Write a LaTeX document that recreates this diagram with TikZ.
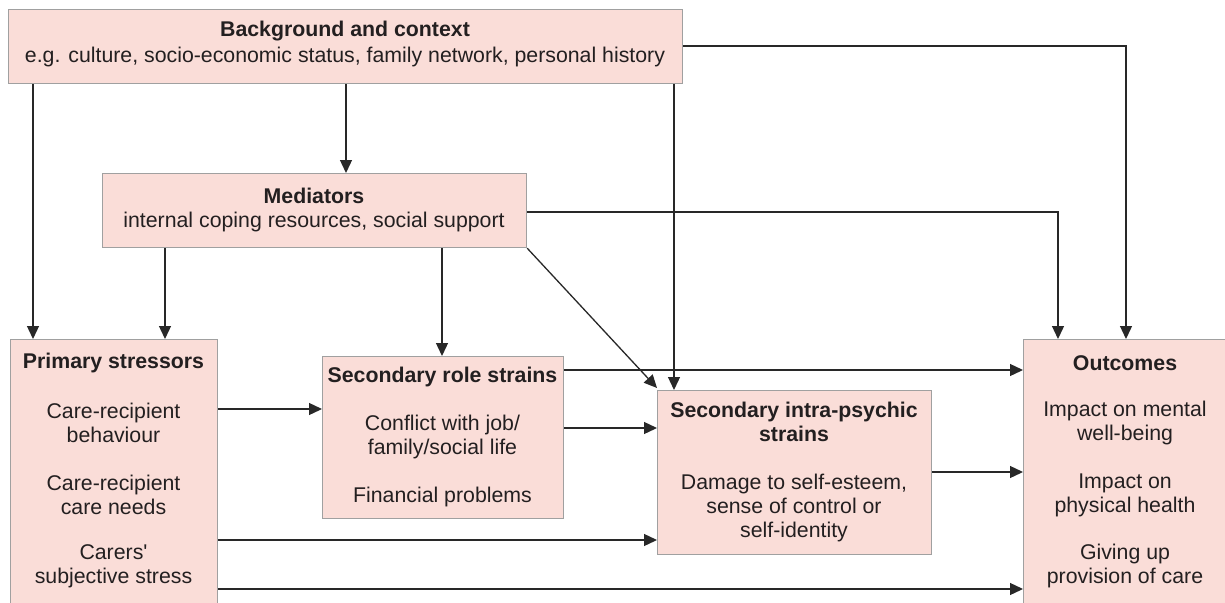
\documentclass[tikz,border=0pt]{standalone}
\usepackage{fontspec}
\setmainfont{Liberation Sans}
\usetikzlibrary{arrows.meta,calc}
\definecolor{boxpink}{RGB}{250,221,216}
\definecolor{boxedge}{RGB}{160,160,160}
\definecolor{linecol}{RGB}{40,40,40}
\definecolor{txt}{RGB}{35,31,32}
\tikzset{
  box/.style={draw=boxedge, fill=boxpink, line width=1.2pt, inner sep=0pt, anchor=north west},
  lbl/.style={text=txt, align=center, inner sep=0pt, font=\fontsize{21.3}{24}\selectfont},
  ttl/.style={lbl, font=\fontsize{21.3}{24}\selectfont\bfseries},
  arr/.style={draw=linecol, line width=1.3pt, -{Triangle[length=13pt,width=12pt]}},
}
\begin{document}
\begin{tikzpicture}[x=1pt,y=-1pt]
\useasboundingbox (0,0) rectangle (1225,602);
% boxes
\node[box, minimum width=674pt, minimum height=74pt] (bg) at (8,9) {};
\node[box, minimum width=424pt, minimum height=74pt] (med) at (102,173) {};
\node[box, minimum width=207pt, minimum height=280pt] (prim) at (10,339) {};
\node[box, minimum width=241pt, minimum height=162pt] (role) at (322,356) {};
\node[box, minimum width=274pt, minimum height=164pt] (intra) at (657,390) {};
\node[box, minimum width=220pt, minimum height=280pt] (out) at (1023,339) {};
% texts
\node[ttl] (bgT) at (345,31) {Background and context};
\node[lbl] (bgS) at (345,57) {e.g. culture, socio-economic status, family network, personal history};
\node[ttl] (medT) at (314,196) {Mediators};
\node[lbl] (medS) at (314,222) {internal coping resources, social support};
\node[ttl] (primT) at (113.5,363) {Primary stressors};
\node[lbl] (primA) at (113.5,423) {Care-recipient\\behaviour};
\node[lbl] (primB) at (113.5,495) {Care-recipient\\care needs};
\node[lbl] (primC) at (113.5,566) {Carers\textquotesingle\\subjective stress};
\node[ttl] (roleT) at (442.5,377) {Secondary role strains};
\node[lbl] (roleA) at (442.5,436.5) {Conflict with job/\\family/social life};
\node[lbl] (roleB) at (442.5,497) {Financial problems};
\node[ttl] (intraT) at (794,422) {Secondary intra-psychic\\strains};
\node[lbl] (intraA) at (794,507.5) {Damage to self-esteem,\\sense of control or\\self-identity};
\node[ttl] (outT) at (1125,363) {Outcomes};
\node[lbl] (outA) at (1125,423) {Impact on mental\\well-being};
\node[lbl] (outB) at (1125,495) {Impact on\\physical health};
\node[lbl] (outC) at (1125,566) {Giving up\\provision of care};
% connectors
\draw[arr] (33,0 |- bg.south) -- (33,0 |- prim.north);
\draw[arr] (346,0 |- bg.south) -- (346,0 |- med.north);
\draw[arr] (674,0 |- bg.south) -- (674,0 |- intra.north);
\draw[arr] (bg.east |- 0,46) -| (1126,0 |- out.north);
\draw[arr] (med.east |- 0,212) -| (1058,0 |- out.north);
\draw[arr] (165,0 |- med.south) -- (165,0 |- prim.north);
\draw[arr] (442,0 |- med.south) -- (442,0 |- role.north);
\draw[arr] (med.south east) -- ($(intra.north west)+(0,-2)$);
\draw[arr] (role.east |- 0,370) -- (out.west |- 0,370);
\draw[arr] (prim.east |- 0,409) -- (role.west |- 0,409);
\draw[arr] (role.east |- 0,428) -- (intra.west |- 0,428);
\draw[arr] (intra.east |- 0,472) -- (out.west |- 0,472);
\draw[arr] (prim.east |- 0,540) -- (intra.west |- 0,540);
\draw[arr] (prim.east |- 0,589) -- (out.west |- 0,589);
\end{tikzpicture}
\end{document}
